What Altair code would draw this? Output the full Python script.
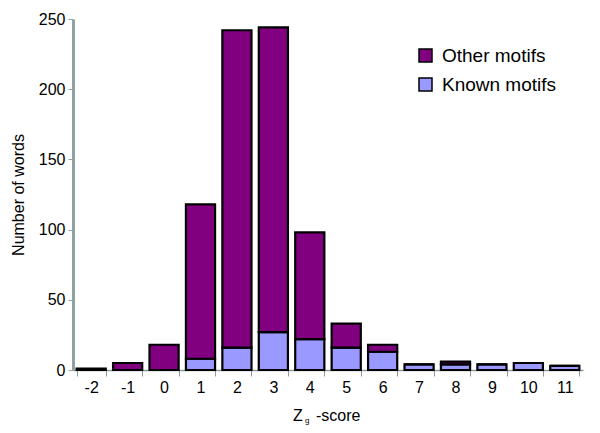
import altair as alt
import pandas as pd

scores = ["-2", "-1", "0", "1", "2", "3", "4", "5", "6", "7", "8", "9", "10", "11"]
known = [0, 0, 0, 8, 16, 27, 22, 16, 13, 4, 4, 4, 5, 3]
other = [1, 5, 18, 110, 226, 217, 76, 17, 5, 0, 2, 0, 0, 0]
series = ["Other motifs", "Known motifs"]
colors = ["#800080", "#9999ff"]
yticks = [0, 50, 100, 150, 200, 250]

rows = []
for s, k, o in zip(scores, known, other):
    rows.append({"score": s, "series": "Known motifs", "value": k, "ord": 0})
    rows.append({"score": s, "series": "Other motifs", "value": o, "ord": 1})
df = pd.DataFrame(rows)

FONT = "Liberation Sans"

bars = alt.Chart(df).mark_bar(stroke="black", strokeWidth=2.2).encode(
    x=alt.X("score:O", sort=scores,
            scale=alt.Scale(paddingInner=0.2, paddingOuter=0.1),
            axis=alt.Axis(title=None, labelAngle=0, labelFontSize=16, labelColor="black",
                          labelFont=FONT, labelPadding=3,
                          domainColor="#8a9a9a", domainWidth=1.5, tickColor="#8a9a9a",
                          tickSize=6, tickBand="extent", bandPosition=0)),
    y=alt.Y("value:Q", stack="zero",
            scale=alt.Scale(domain=[0, 250], nice=False),
            axis=alt.Axis(title="Number of words", values=yticks, grid=False,
                          labelFontSize=16, labelColor="black", labelFont=FONT,
                          titleFontSize=16, titleFont=FONT, titleFontWeight="normal",
                          titleColor="black", titlePadding=12,
                          domainColor="#8fa3a3", domainWidth=3, tickColor="#8fa3a3",
                          tickSize=5, labelPadding=3)),
    color=alt.Color("series:N", scale=alt.Scale(domain=series, range=colors),
                    legend=alt.Legend(title=None, orient="none", legendX=343, legendY=27,
                                      symbolType="square", symbolSize=169,
                                      symbolStrokeColor="black", symbolStrokeWidth=1.5,
                                      labelFontSize=19, labelFont=FONT, labelOffset=7,
                                      labelColor="black", rowPadding=9)),
    order=alt.Order("ord:Q"),
)

title_df = pd.DataFrame({"t": ["Z"]})
t1 = alt.Chart(title_df).mark_text(fontSize=16, font=FONT, align="left", color="black").encode(
    x=alt.value(220), y=alt.value(397), text=alt.value("Z"))
t2 = alt.Chart(title_df).mark_text(fontSize=8, font=FONT, align="left", color="black").encode(
    x=alt.value(232), y=alt.value(402), text=alt.value("g"))
t3 = alt.Chart(title_df).mark_text(fontSize=16, font=FONT, align="left", color="black").encode(
    x=alt.value(243), y=alt.value(397), text=alt.value("-score"))

chart = alt.layer(bars, t1, t2, t3).properties(
    width=510, height=351,
    autosize=alt.AutoSizeParams(type="none"),
    padding={"left": 65, "top": 11, "right": 9, "bottom": 55},
).configure_view(stroke=None)

chart.save("out.html", embed_options={"renderer": "svg", "actions": False})
